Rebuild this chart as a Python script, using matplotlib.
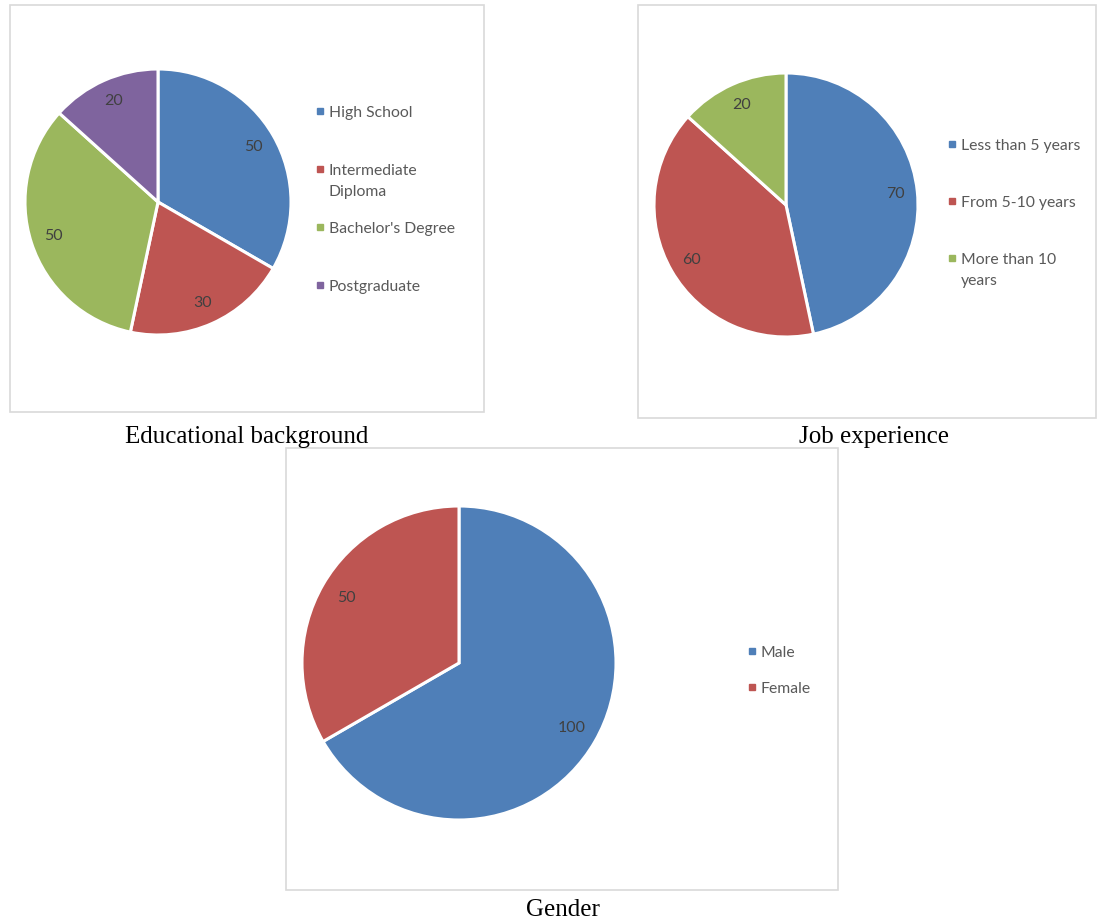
import matplotlib.pyplot as plt
from matplotlib.patches import Rectangle

W, H = 1098, 921

# data
edu_labels = ['High School', 'Intermediate\nDiploma', "Bachelor's Degree", 'Postgraduate']
edu_values = [50, 30, 50, 20]

job_labels = ['Less than 5 years', 'From 5-10 years', 'More than 10\nyears']
job_values = [70, 60, 20]

gender_labels = ['Male', 'Female']
gender_values = [100, 50]

colors = ['#4F7FB8', '#BE5552', '#9BB75D', '#7F649E']

fig = plt.figure(figsize=(W / 100, H / 100), dpi=100)


def fx(x):
    return x / W


def fy(y):
    return 1 - y / H


def draw_panel(frame, center, r, values, labels, leg_x, leg_y, step, title, title_xy):
    # light gray frame around the chart
    x0, y0, x1, y1 = frame
    fig.add_artist(Rectangle((fx(x0), fy(y1)), (x1 - x0) / W, (y1 - y0) / H,
                             transform=fig.transFigure, fill=False,
                             edgecolor='#D9D9D9', linewidth=1.2))

    cx, cy = center
    pad = 1.05 * r
    ax = fig.add_axes([fx(cx - pad), fy(cy + pad), 2 * pad / W, 2 * pad / H])
    total = sum(values)
    ax.pie(values, colors=colors[:len(values)], startangle=90, counterclock=False,
           autopct=lambda p: f'{p * total / 100:.0f}', pctdistance=0.83,
           wedgeprops=dict(edgecolor='white', linewidth=2.2),
           textprops=dict(color='#404040', fontsize=11.5, family='Lato'))
    ax.set_xlim(-1.05, 1.05)
    ax.set_ylim(-1.05, 1.05)
    ax.set_aspect('equal')
    ax.axis('off')

    # legend, Excel style: small squares, first lines evenly spaced
    for i, lab in enumerate(labels):
        y = leg_y + i * step
        fig.add_artist(Rectangle((fx(leg_x - 3), fy(y + 3)), 6 / W, 6 / H,
                                 transform=fig.transFigure, color=colors[i]))
        fig.text(fx(leg_x + 9), fy(y - 5), lab, va='top', ha='left',
                 fontsize=11.3, family='Lato', color='#595959', linespacing=1.6)

    fig.text(fx(title_xy[0]), fy(title_xy[1]), title, ha='center', va='center',
             fontsize=18, family='Liberation Serif', color='black')


draw_panel((10, 5, 484, 412), (158, 202), 133, edu_values, edu_labels,
           320, 111, 58, 'Educational background', (247, 437))
draw_panel((638, 5, 1096, 418), (786, 205), 132, job_values, job_labels,
           952, 144, 57, 'Job experience', (874, 437))
draw_panel((286, 448, 838, 890), (459, 663), 157, gender_values, gender_labels,
           752, 651, 36, 'Gender', (563, 910))

fig.savefig('out.png', dpi=100, facecolor='white')
